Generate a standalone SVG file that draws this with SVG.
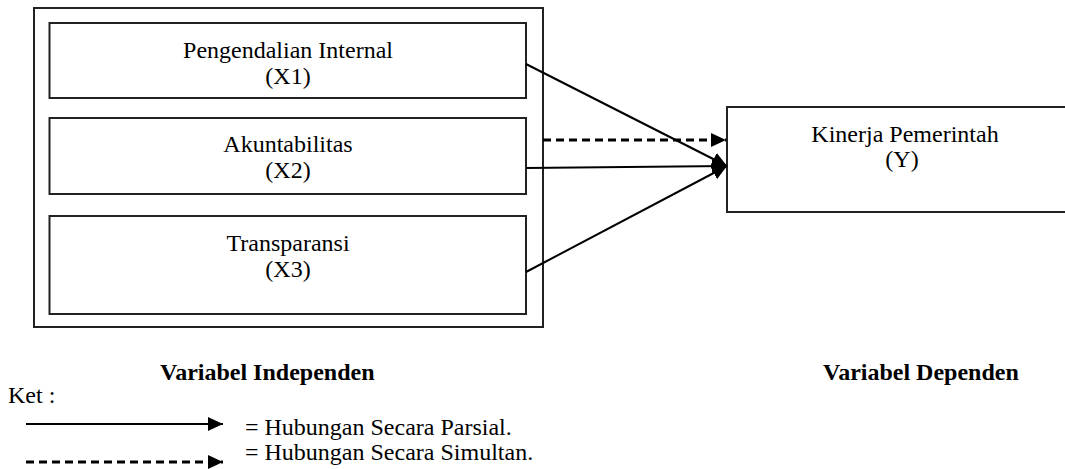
<svg xmlns="http://www.w3.org/2000/svg" width="1065" height="469" viewBox="0 0 1065 469">
  <defs>
    <marker id="ah" markerUnits="userSpaceOnUse" markerWidth="16" markerHeight="15" refX="15" refY="7" orient="auto">
      <path d="M0,0 L15,7 L0,14 Z" fill="#000"/>
    </marker>
    <style>
      text { font-family: "Liberation Serif", "Times New Roman", serif; font-size: 24px; fill: #000; }
      .c { text-anchor: middle; }
      .b { font-weight: bold; }
      .box { fill: #fff; stroke: #222; stroke-width: 2; }
      .ln { stroke: #000; stroke-width: 2; fill: none; }
      .dash { stroke: #000; stroke-width: 3; fill: none; stroke-dasharray: 8 5; }
    </style>
  </defs>
  <rect width="1065" height="469" fill="#fff"/>

  <g id="outer">
    <rect class="box" x="34" y="8" width="509" height="319"/>
  </g>
  <g id="x1">
    <rect class="box" x="49.5" y="23" width="476.5" height="75"/>
    <text class="c" x="288" y="58">Pengendalian Internal</text>
    <text class="c" x="288" y="84">(X1)</text>
  </g>
  <g id="x2">
    <rect class="box" x="49.5" y="118" width="476.5" height="76"/>
    <text class="c" x="288" y="152">Akuntabilitas</text>
    <text class="c" x="288" y="178">(X2)</text>
  </g>
  <g id="x3">
    <rect class="box" x="49.5" y="216" width="476.5" height="98"/>
    <text class="c" x="288" y="251">Transparansi</text>
    <text class="c" x="288" y="277">(X3)</text>
  </g>
  <g id="y">
    <rect class="box" x="727" y="107" width="360" height="105"/>
    <text class="c" x="905" y="142">Kinerja Pemerintah</text>
    <text class="c" x="902" y="167">(Y)</text>
  </g>

  <g id="connectors">
    <line class="ln" x1="526" y1="64" x2="727" y2="166" marker-end="url(#ah)"/>
    <line class="ln" x1="526" y1="168" x2="727" y2="166" marker-end="url(#ah)"/>
    <line class="ln" x1="526" y1="272" x2="727" y2="166" marker-end="url(#ah)"/>
    <line class="dash" x1="543" y1="140" x2="726" y2="140" marker-end="url(#ah)"/>
  </g>

  <g id="labels">
    <text class="b" x="160" y="380">Variabel Independen</text>
    <text class="b" x="823" y="380">Variabel Dependen</text>
  </g>

  <g id="legend">
    <text x="8" y="403">Ket :</text>
    <line class="ln" x1="26" y1="424" x2="223" y2="424" marker-end="url(#ah)"/>
    <line class="dash" x1="26" y1="462" x2="223" y2="462" marker-end="url(#ah)"/>
    <text x="245" y="435">= Hubungan Secara Parsial.</text>
    <text x="245" y="460">= Hubungan Secara Simultan.</text>
  </g>
</svg>
